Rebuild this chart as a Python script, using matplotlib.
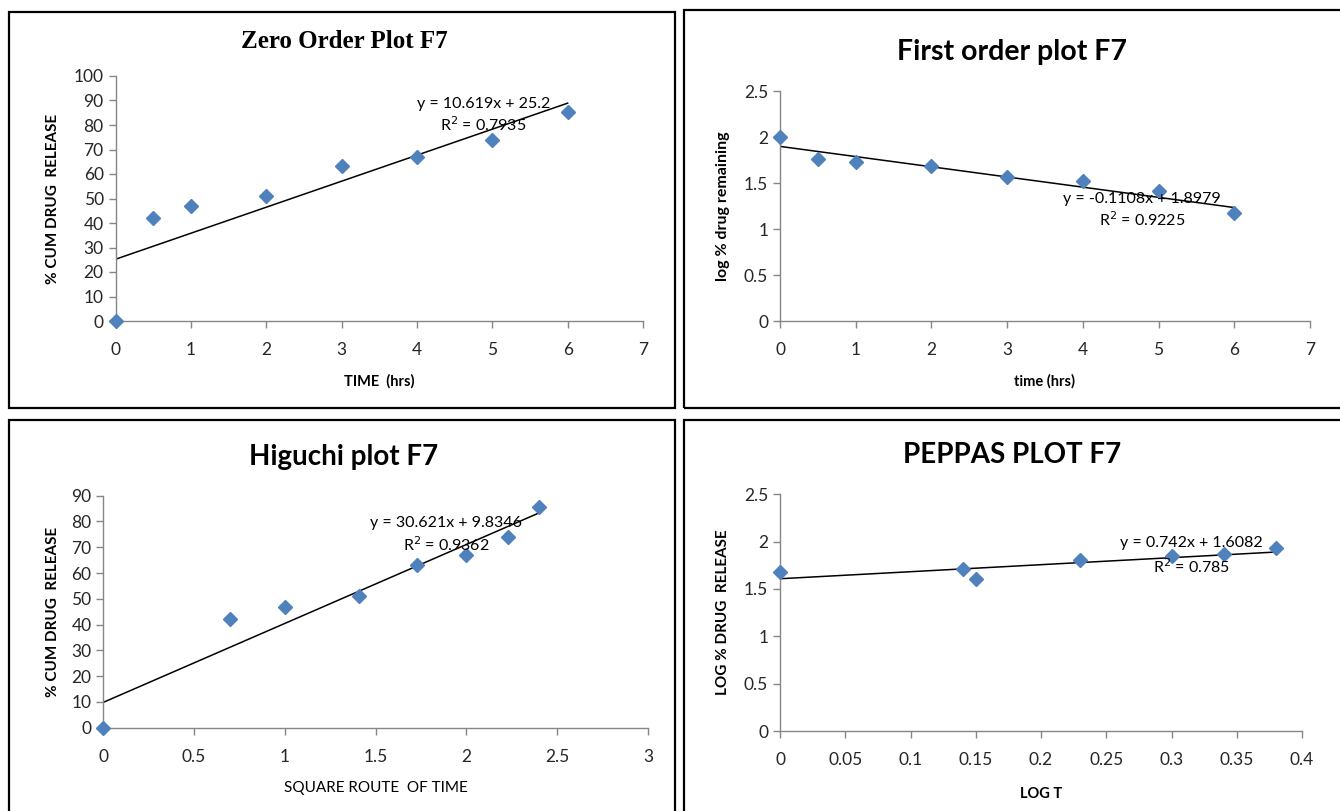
import matplotlib
matplotlib.use("Agg")
import matplotlib.pyplot as plt
from matplotlib.patches import Rectangle

W, H = 1340, 811
BLUE = "#4F81BD"
AXIS_GREY = "#868686"

# zero order
zero_time = [0, 0.5, 1, 2, 3, 4, 5, 6]
zero_release = [0, 42, 47, 51, 63.3, 67, 74, 85.5]
zero_fit = (10.619, 25.2)

# first order
first_time = [0, 0.5, 1, 2, 3, 4, 5, 6]
first_log_remaining = [2.0, 1.763, 1.724, 1.69, 1.568, 1.518, 1.415, 1.176]
first_fit = (-0.1108, 1.8979)

# higuchi
higuchi_sqrt_time = [0, 0.7, 1, 1.41, 1.73, 2, 2.23, 2.4]
higuchi_release = [0, 42, 47, 51, 63.3, 67, 74, 85.5]
higuchi_fit = (30.621, 9.8346)

# peppas
peppas_log_t = [0, 0.14, 0.15, 0.23, 0.3, 0.34, 0.38]
peppas_log_release = [1.675, 1.71, 1.61, 1.806, 1.845, 1.873, 1.933]
peppas_fit = (0.742, 1.6082)

plt.rcParams["font.family"] = ["Lato", "DejaVu Sans"]

fig = plt.figure(figsize=(W / 100, H / 100), dpi=100)


def px_axes(x0, x1, y_top, y_bot):
    return fig.add_axes([x0 / W, 1 - y_bot / H, (x1 - x0) / W, (y_bot - y_top) / H])


def frame(x0, x1, y_top, y_bot):
    fig.patches.append(Rectangle((x0 / W, 1 - y_bot / H), (x1 - x0) / W, (y_bot - y_top) / H,
                                 transform=fig.transFigure, fill=False, edgecolor="black",
                                 linewidth=1.6, clip_on=False))


def style(ax, xlim, ylim, xticks, yticks):
    ax.set_xlim(*xlim)
    ax.set_ylim(*ylim)
    ax.set_xticks(xticks)
    ax.set_yticks(yticks)
    ax.set_xticklabels([f"{v:g}" for v in xticks])
    ax.set_yticklabels([f"{v:g}" for v in yticks])
    for side in ["top", "right"]:
        ax.spines[side].set_visible(False)
    for side in ["left", "bottom"]:
        ax.spines[side].set_color(AXIS_GREY)
        ax.spines[side].set_linewidth(1.0)
    ax.tick_params(direction="out", length=5, width=1.0, color=AXIS_GREY,
                   labelsize=12.5, labelcolor="#262626")
    ax.tick_params(axis="x", pad=10)
    ax.set_facecolor("none")


def plot_panel(ax, xs, ys, fit, x_end):
    slope, icpt = fit
    # excel-style linear trendline across the data range
    ax.plot([0, x_end], [icpt, slope * x_end + icpt], color="black", linewidth=1.1, zorder=2)
    ax.plot(xs, ys, linestyle="none", marker="D", markersize=7, color=BLUE,
            markeredgecolor=BLUE, zorder=3, clip_on=False)


def fit_text(ax, x, y1, y2, eq, r2):
    ax.text(x, y1, eq, ha="center", va="center", fontsize=11.5)
    ax.text(x, y2, "R$^2$ = " + r2, ha="center", va="center", fontsize=11.5)


# frames
frame(9, 675, 12, 408)
frame(684, 1360, 10, 408)
frame(9, 675, 420, 830)
frame(684, 1360, 420, 830)

# ---- zero order
ax1 = px_axes(115.5, 643, 76, 321)
plot_panel(ax1, zero_time, zero_release, zero_fit, 6)
style(ax1, (0, 7), (0, 100), range(0, 8), range(0, 101, 10))
fit_text(ax1, 4.88, 88.6, 80.2, "y = 10.619x + 25.2", "0.7935")
ax1.set_xlabel("TIME  (hrs)", fontsize=10.5, fontweight="bold", labelpad=12)
ax1.set_ylabel("% CUM DRUG  RELEASE", fontsize=11, fontweight="bold", labelpad=10)
fig.text(344 / W, 1 - 42 / H, "Zero Order Plot F7", ha="center", va="center",
         fontsize=18, fontweight="bold", family=["Liberation Serif", "DejaVu Serif"])

# ---- first order
ax2 = px_axes(780, 1310, 91, 321)
plot_panel(ax2, first_time, first_log_remaining, first_fit, 6)
style(ax2, (0, 7), (0, 2.5), range(0, 8), [0, 0.5, 1, 1.5, 2, 2.5])
fit_text(ax2, 4.78, 1.326, 1.10, "y = -0.1108x + 1.8979", "0.9225")
ax2.set_xlabel("time (hrs)", fontsize=10.5, fontweight="bold", labelpad=12)
ax2.set_ylabel("log % drug remaining", fontsize=11.5, fontweight="bold", labelpad=10)
fig.text(1012 / W, 1 - 52 / H, "First order plot F7", ha="center", va="center",
         fontsize=20.5, fontweight="bold")

# ---- higuchi
ax3 = px_axes(103.3, 648, 495.7, 727.7)
plot_panel(ax3, higuchi_sqrt_time, higuchi_release, higuchi_fit, 2.4)
style(ax3, (0, 3), (0, 90), [0, 0.5, 1, 1.5, 2, 2.5, 3], range(0, 91, 10))
fit_text(ax3, 1.887, 79.4, 70.9, "y = 30.621x + 9.8346", "0.9362")
ax3.set_xlabel("SQUARE ROUTE  OF TIME", fontsize=11, labelpad=12)
ax3.set_ylabel("% CUM DRUG  RELEASE", fontsize=11, fontweight="bold", labelpad=8)
fig.text(344 / W, 1 - 457 / H, "Higuchi plot F7", ha="center", va="center",
         fontsize=20, fontweight="bold")

# ---- peppas
ax4 = px_axes(780, 1302, 494.3, 731)
plot_panel(ax4, peppas_log_t, peppas_log_release, peppas_fit, 0.38)
style(ax4, (0, 0.4), (0, 2.5), [0, 0.05, 0.1, 0.15, 0.2, 0.25, 0.3, 0.35, 0.4],
      [0, 0.5, 1, 1.5, 2, 2.5])
fit_text(ax4, 0.315, 1.986, 1.732, "y = 0.742x + 1.6082", "0.785")
ax4.set_xlabel("LOG T", fontsize=10.5, fontweight="bold", labelpad=14)
ax4.set_ylabel("LOG % DRUG  RELEASE", fontsize=11, fontweight="bold", labelpad=10)
fig.text(1012 / W, 1 - 455 / H, "PEPPAS PLOT F7", ha="center", va="center",
         fontsize=20, fontweight="bold")

fig.savefig("out.png", dpi=100, facecolor="white")
